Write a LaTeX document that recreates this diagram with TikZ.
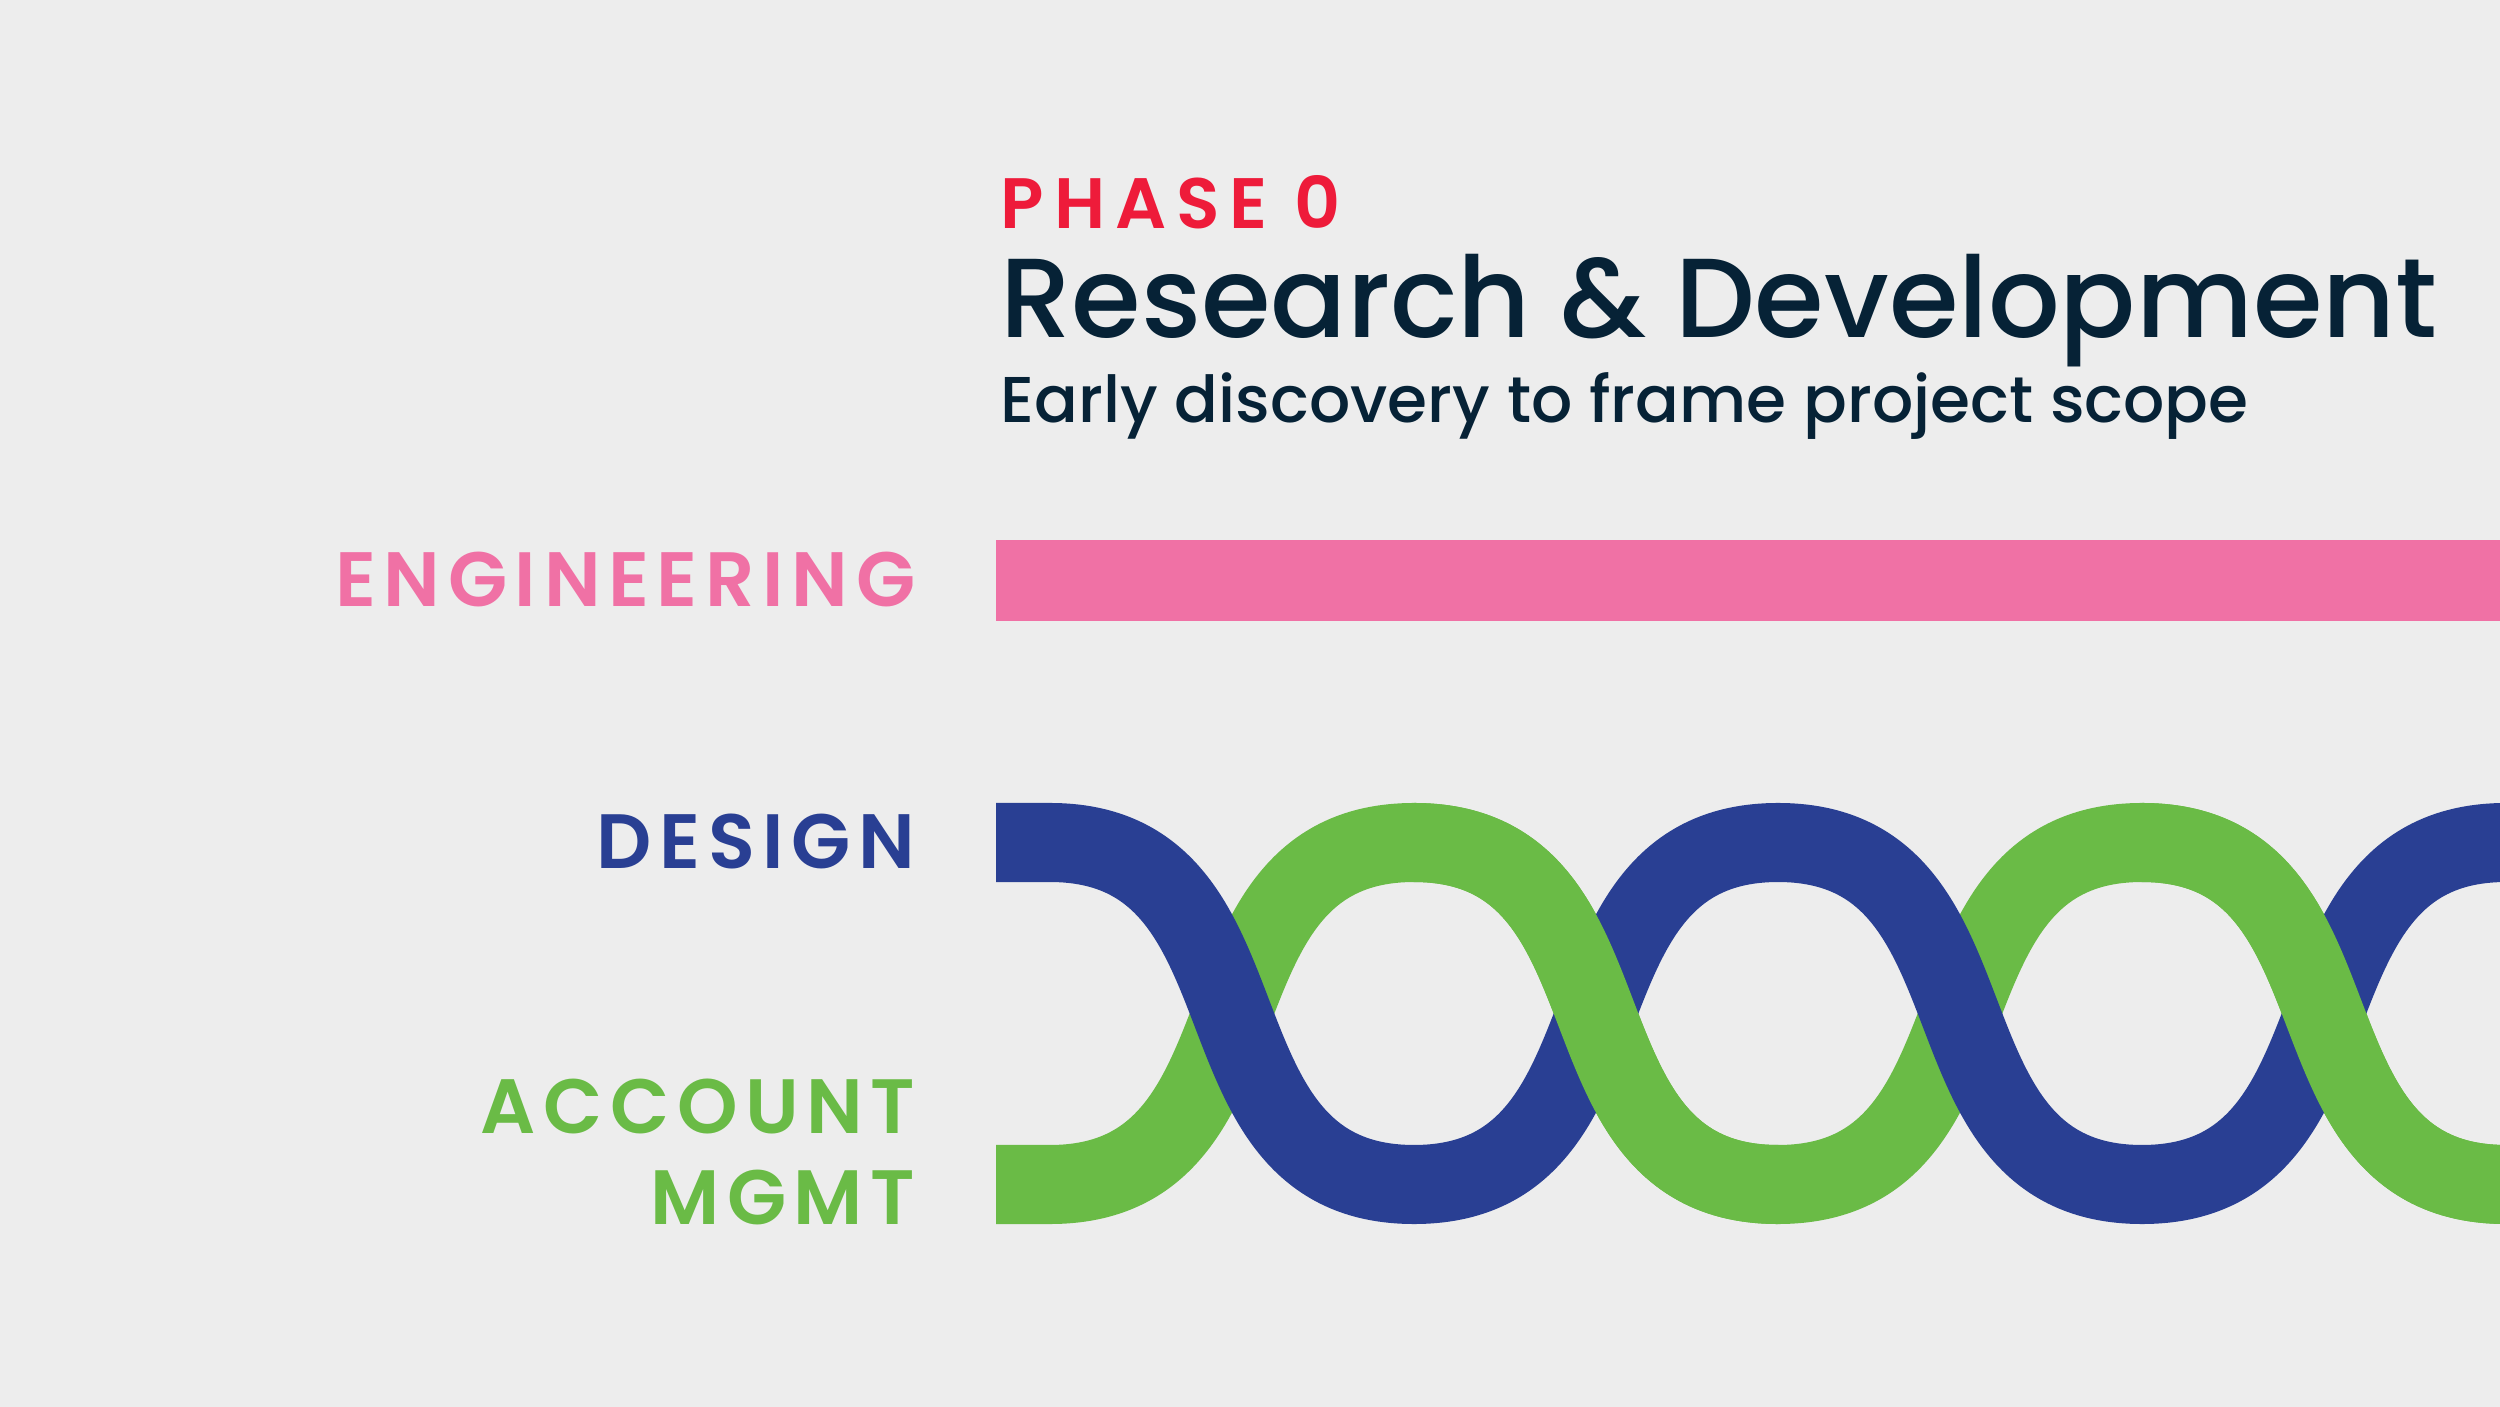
\documentclass[tikz,border=0pt]{standalone}
\usepackage{fontspec}
\setmainfont{Poppins}
\newfontfamily\titlefont{Poppins Medium}
\newfontfamily\trackedfont{Poppins SemiBold}[LetterSpace=10]
\newfontfamily\phasefont{Poppins SemiBold}[LetterSpace=14]
\usetikzlibrary{positioning}

\definecolor{bgc}{HTML}{EDEDED}
\definecolor{phasered}{HTML}{EE1B3A}
\definecolor{navy}{HTML}{062236}
\definecolor{engpink}{HTML}{F071A5}
\definecolor{designblue}{HTML}{293F93}
\definecolor{acctgreen}{HTML}{6ABB46}

\begin{document}
\begin{tikzpicture}[
      x=0.01cm, y=-0.01cm,
      % Text styles
      heading/.style={anchor=base west, inner sep=0pt, text=navy},
      lane label/.style={
          anchor=base east, inner sep=0pt,
          font=\trackedfont\fontsize{21.9pt}{24pt}\selectfont,
        },
      % Band styles
      band/.style={line width=0.79cm, line cap=butt},
      wave/.style={band, line join=round},
    ]
    \fill[bgc] (0,0) rectangle (2500,1407);
    \useasboundingbox (0,0) rectangle (2500,1407);
    \clip (0,0) rectangle (2500,1407);

    % --- Title block ---
    \node[heading, text=phasered, font=\phasefont\fontsize{20.3pt}{22pt}\selectfont]
      (phase) at (1000,229) {PHASE 0};
    \node[heading, font=\titlefont\fontsize{32pt}{36pt}\selectfont]
      (title) at (1000,338) {Research \& Development};
    \node[heading, font=\titlefont\fontsize{18.4pt}{22pt}\selectfont]
      (subtitle) at (1000,423) {Early discovery to frame project scope};

    % --- Lane labels ---
    \node[lane label, text=engpink] (eng) at (916,607) {ENGINEERING};
    \node[lane label, text=designblue] (design) at (916,869) {DESIGN};
    \node[lane label, text=acctgreen] (account) at (916,1133) {ACCOUNT};
    \node[lane label, text=acctgreen] (mgmt) at (916,1224) {MGMT};

    % --- Engineering bar ---
    \fill[engpink] (996,540) rectangle (2500,621);

    % --- Woven bands: full paths first, then the falling green parts on top ---
    \draw[wave, acctgreen] (996,1184.5) -- (1050,1184.5)
      \foreach \px/\py in {1414/842.5, 1778/1184.5, 2142/842.5, 2506/1184.5} {
        .. controls +(233,0) and +(-233,0) .. (\px,\py)
      };
    \draw[wave, designblue] (996,842.5) -- (1050,842.5)
      \foreach \px/\py in {1414/1184.5, 1778/842.5, 2142/1184.5, 2506/842.5} {
        .. controls +(233,0) and +(-233,0) .. (\px,\py)
      };
    \foreach \xa/\xb in {1414/1778, 2142/2506} {
        \draw[band, acctgreen] (\xa,842.5) .. controls +(233,0) and +(-233,0) .. (\xb,1184.5);
      }
\end{tikzpicture}
\end{document}
